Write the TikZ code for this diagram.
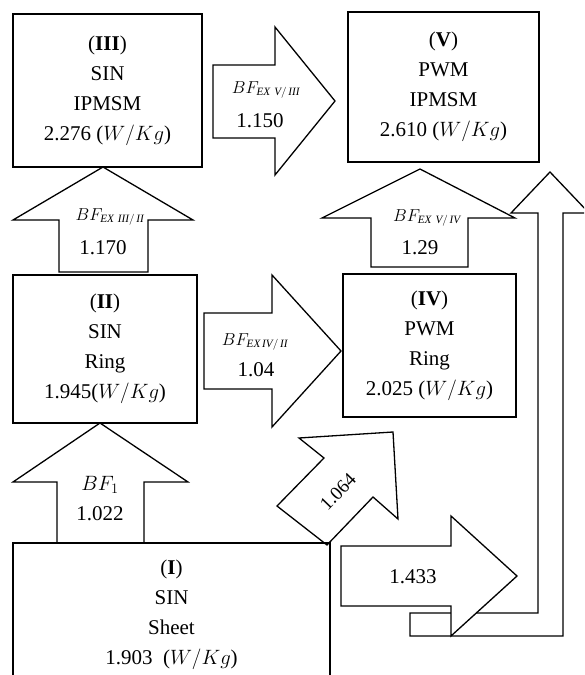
\documentclass[tikz,border=0pt]{standalone}
\usepackage{fontspec}
\setmainfont{Liberation Serif}
\begin{document}
\begin{tikzpicture}[x=1pt,y=-1pt,
  box/.style={draw, line width=1.5pt, align=center, inner sep=0pt, font=\fontsize{21}{30}\selectfont},
  barrow/.style={draw, fill=white, line width=1.3pt, line join=miter},
  num/.style={font=\fontsize{21}{24}\selectfont, inner sep=0pt},
  bflbl/.style={font=\fontsize{16}{18}\selectfont, inner sep=0pt}]
\useasboundingbox (0,0) rectangle (584,675);
\clip (0,0) rectangle (584,675);
% block arrows
\draw[barrow] (213,65) -- (275,65) -- (275,27) -- (335,101) -- (275,175) -- (275,138) -- (213,138) -- cycle;
\draw[barrow] (59,272) -- (59,220) -- (13,220) -- (103,167) -- (193,220) -- (148,220) -- (148,272) -- cycle;
\draw[barrow] (204,313) -- (272,313) -- (272,275) -- (341,351) -- (272,427) -- (272,389) -- (204,389) -- cycle;
\draw[barrow] (371,267) -- (371,218) -- (322,218) -- (420,169) -- (515,218) -- (468,218) -- (468,267) -- cycle;
\draw[barrow] (57,543) -- (57,482) -- (13,482) -- (100,423) -- (188,482) -- (144,482) -- (144,543) -- cycle;
\draw[barrow] (393,432) -- (398,519) -- (373,497) -- (327,545) -- (277,506) -- (324,458) -- (299,438) -- cycle;
\draw[barrow] (410,613) -- (538,613) -- (538,213) -- (511,213) -- (550,172) -- (589,213) -- (563,213) -- (563,636) -- (410,636) -- cycle;
\draw[barrow] (341,546) -- (451,546) -- (451,516) -- (517,576) -- (451,636) -- (451,606) -- (341,606) -- cycle;
% boxes
\node[box, minimum width=189pt, minimum height=153pt] (III) at (107.5,90.5) {(\textbf{III})\\SIN\\IPMSM\\2.276 ($W/Kg$)};
\node[box, minimum width=191pt, minimum height=150pt] (V) at (443.5,87) {(\textbf{V})\\PWM\\IPMSM\\2.610 ($W/Kg$)};
\node[box, minimum width=184pt, minimum height=148pt] (II) at (105,349) {(\textbf{II})\\SIN\\Ring\\1.945($W/Kg$)};
\node[box, minimum width=173pt, minimum height=143pt] (IV) at (429.5,345.5) {(\textbf{IV})\\PWM\\Ring\\2.025 ($W/Kg$)};
\node[box, minimum width=317pt, minimum height=144pt] (I) at (171.5,615) {(\textbf{I})\\SIN\\Sheet\\1.903\ \ ($W/Kg$)};
% labels
\node[bflbl] (l35) at (266,90) {$BF_{\mathit{EX\ V/\,III}}$};
\node[num] (n35) at (260,121) {1.150};
\node[bflbl] (l23) at (110,217) {$BF_{\mathit{EX\ III/\,II}}$};
\node[num] (n23) at (103,248) {1.170};
\node[bflbl] (l24) at (255,342) {$BF_{\mathit{EX\,IV/\,II}}$};
\node[num] (n24) at (256,370) {1.04};
\node[bflbl] (l45) at (427,218) {$BF_{\mathit{EX\ V/\,IV}}$};
\node[num] (n45) at (420,248) {1.29};
\node[num, font=\fontsize{21}{24}\selectfont] (l12) at (100,485) {$BF_1$};
\node[num] (n12) at (100,514) {1.022};
\node[num, font=\fontsize{19}{22}\selectfont, rotate=46] (n14) at (338,492) {1.064};
\node[num] (n15) at (413,577) {1.433};
\end{tikzpicture}
\end{document}
